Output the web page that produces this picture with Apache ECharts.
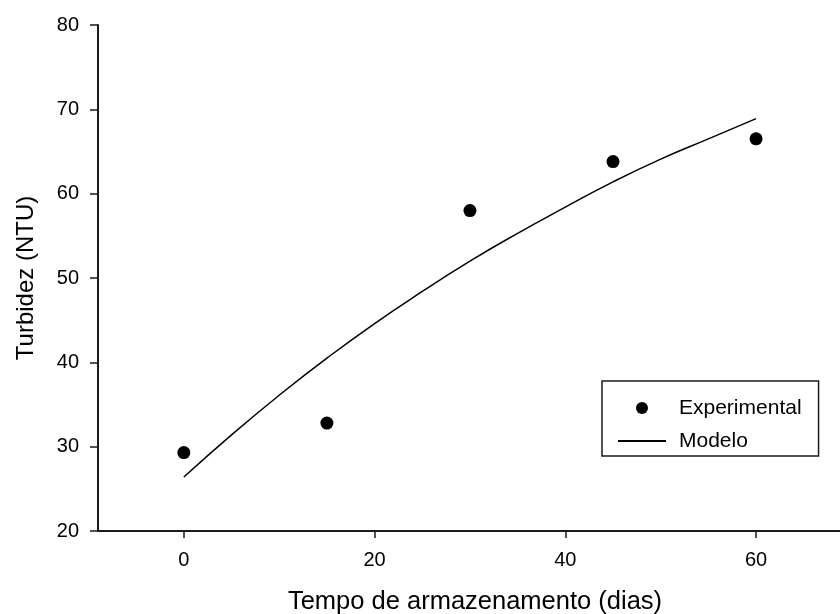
<!DOCTYPE html>
<html lang="pt">
<head>
    <meta charset="UTF-8">
    <title>Turbidez</title>
    <script type="text/javascript" src="https://cdn.jsdelivr.net/npm/echarts@6/dist/echarts.min.js"></script>
    <style>
        html, body { margin: 0; padding: 0; background: #fff; }
    </style>
</head>
<body>
<div id="main" style="width:840px;height:614px;"></div>
<script>
    // dados experimentais
    let diasExp = [0, 15, 30, 45, 60];
    let turbExp = [29.3, 32.8, 58.0, 63.8, 66.5];

    // curva do modelo
    let diasModelo = [0, 5, 10, 15, 20, 25, 30, 35, 40, 45, 50, 55, 60];
    let turbModelo = [26.4, 31.4, 36.1, 40.5, 44.6, 48.4, 52.0, 55.3, 58.4, 61.4, 64.1, 66.5, 68.9];

    let xTicks = [0, 20, 40, 60];

    const fonte = 'Liberation Sans, Arial, sans-serif';
    const cor = '#1a1a1a';

    let myChart = echarts.init(document.getElementById('main'));

    let option = {
        animation: false,
        backgroundColor: '#fff',
        grid: { left: 98, right: 0, top: 25, bottom: 83, outerBoundsMode: 'none', containLabel: false },
        legend: {
            orient: 'vertical',
            left: 602,
            top: 381,
            padding: [16, 17, 4, 15],
            itemGap: 11,
            itemWidth: 48,
            itemHeight: 12,
            borderColor: cor,
            borderWidth: 1.5,
            textStyle: { fontFamily: fonte, fontSize: 21, color: '#000', lineHeight: 22, padding: [0, 0, 0, 8] },
            data: [
                { name: 'Experimental' },
                { name: 'Modelo', itemStyle: { opacity: 0 } }
            ]
        },
        xAxis: {
            type: 'value',
            min: -9,
            max: 68.8,
            name: 'Tempo de armazenamento (dias)',
            nameLocation: 'middle',
            nameGap: 58,
            nameTextStyle: { fontFamily: fonte, fontSize: 25.5, color: '#000', padding: [0, 0, 0, 12] },
            axisLine: { onZero: false, lineStyle: { color: cor, width: 2 } },
            axisTick: { show: true, length: 7, customValues: xTicks, lineStyle: { color: cor, width: 1.5 } },
            axisLabel: { customValues: xTicks, margin: 19, fontFamily: fonte, fontSize: 20, color: '#000' },
            splitLine: { show: false }
        },
        yAxis: {
            type: 'value',
            min: 20,
            max: 80,
            interval: 10,
            name: 'Turbidez (NTU)',
            nameLocation: 'middle',
            nameGap: 60,
            nameTextStyle: { fontFamily: fonte, fontSize: 24, color: '#000' },
            axisLine: { show: true, onZero: false, lineStyle: { color: cor, width: 2 } },
            axisTick: { show: true, length: 8, lineStyle: { color: cor, width: 1.5 } },
            axisLabel: { margin: 19, fontFamily: fonte, fontSize: 20, color: '#000' },
            splitLine: { show: false }
        },
        series: [
            {
                name: 'Experimental',
                type: 'scatter',
                symbol: 'circle',
                symbolSize: 13,
                itemStyle: { color: '#000', opacity: 1 },
                data: diasExp.map((d, i) => [d, turbExp[i]])
            },
            {
                name: 'Modelo',
                type: 'line',
                smooth: true,
                symbol: 'none',
                lineStyle: { color: '#000', width: 1.5 },
                itemStyle: { color: '#000' },
                data: diasModelo.map((d, i) => [d, turbModelo[i]])
            }
        ]
    };

    myChart.setOption(option);
</script>
</body>
</html>
